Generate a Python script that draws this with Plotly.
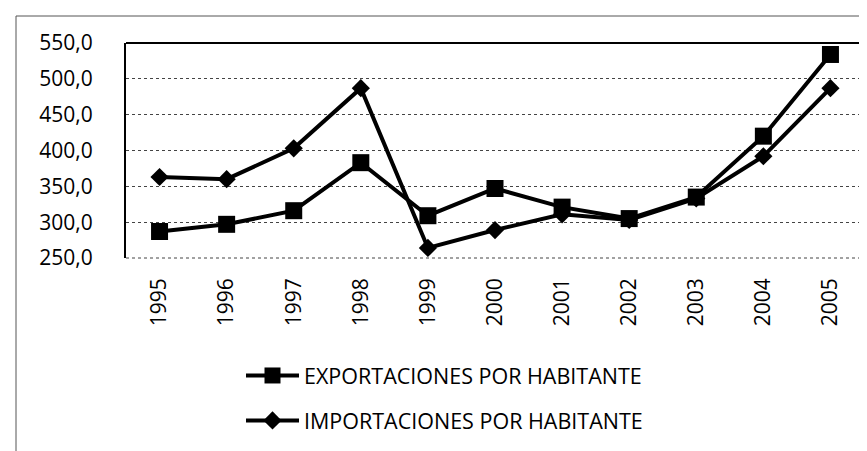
import plotly.graph_objects as go

years = ["1995", "1996", "1997", "1998", "1999", "2000", "2001", "2002", "2003", "2004", "2005"]
exportaciones = [287, 297, 316, 383, 309, 347, 321, 305, 335, 420, 534]
importaciones = [363, 360, 403, 487, 264, 289, 311, 303, 333, 392, 487]
y_ticks = [250, 300, 350, 400, 450, 500, 550]

W, H = 867, 451
L, R, T, B = 118, 11, 35, 201

fig = go.Figure()
fig.add_trace(go.Scatter(
    x=years, y=exportaciones, name="EXPORTACIONES POR HABITANTE",
    mode="lines+markers", legendgroup="a",
    line=dict(color="black", width=4),
    marker=dict(symbol="square", size=17, color="black"),
))
fig.add_trace(go.Scatter(
    x=years, y=importaciones, name="IMPORTACIONES POR HABITANTE",
    mode="lines+markers", legendgroup="b",
    line=dict(color="black", width=4),
    marker=dict(symbol="diamond", size=14, color="black"),
))

pw = W - L - R
ph = H - T - B
fig.add_shape(type="rect", xref="paper", yref="paper",
              x0=(8 - L) / pw, x1=(866 - L) / pw,
              y0=(ph + T - 448) / ph, y1=1 + (T - 8) / ph,
              line=dict(color="#555", width=1), layer="below")
fig.add_shape(type="line", xref="paper", yref="paper", x0=0, x1=1, y0=1, y1=1,
              line=dict(color="black", width=2))
fig.add_shape(type="line", xref="paper", yref="paper", x0=0, x1=1, y0=0, y1=0,
              line=dict(color="#444", width=1, dash="dot"), layer="below")

fig.update_layout(
    width=W, height=H,
    margin=dict(l=L, r=R, t=T, b=B, pad=0, autoexpand=False),
    paper_bgcolor="white", plot_bgcolor="white",
    separators=",.",
    font=dict(family="Open Sans", color="black"),
    showlegend=True,
    legend=dict(
        xref="paper", yref="paper",
        x=(233 - L) / pw, y=(ph + T - 347) / ph, xanchor="left", yanchor="top",
        font=dict(size=21.5, color="black"),
        tracegroupgap=14, itemwidth=53,
        bgcolor="rgba(0,0,0,0)",
    ),
    xaxis=dict(
        type="category", range=[-0.5, 10.5],
        showgrid=False, showline=False, ticks="",
        tickangle=-90, tickfont=dict(size=21),
        ticklabelstandoff=15,
    ),
    yaxis=dict(
        range=[250, 550], tickvals=y_ticks, tickformat=".1f",
        showgrid=True, gridcolor="#444", griddash="dot", gridwidth=1,
        showline=True, linecolor="black", linewidth=2, mirror=True,
        ticks="", tickfont=dict(size=21), ticklabelstandoff=27,
        zeroline=False,
    ),
)

fig.write_html("out.html")
